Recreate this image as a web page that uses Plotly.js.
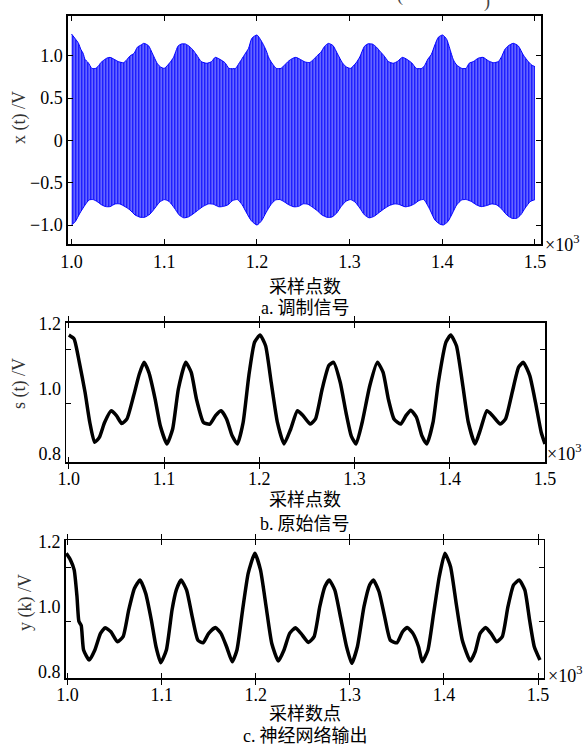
<!DOCTYPE html>
<html>
<head>
<meta charset="utf-8">
<script src="https://cdn.plot.ly/plotly-3.0.1.min.js"></script>
<style>html,body{margin:0;padding:0;background:#fff;}#chart{width:586px;height:747px;}</style>
</head>
<body>
<div id="chart"></div>
<script>
// ---- tick labels ----
const X_TICKS = [1000, 1100, 1200, 1300, 1400, 1500];
const X_TICKTEXT = ['1.0', '1.1', '1.2', '1.3', '1.4', '1.5'];
const XT_TICKS = [-1, -0.5, 0, 0.5, 1];
const XT_TICKTEXT = ['\u22121.0', '\u22120.5', '0', '0.5', '1.0'];
const S_TICKS = [0.8, 1.0, 1.2];
const S_TICKTEXT = ['0.8', '1.0', '1.2'];
const S_MARKS = [0.954, 1.1225];
const Y_MARKS = [0.954, 1.12];

// ---- a. modulated signal: upper / lower envelope of x(t) ----
const UP_X = [1000,1004,1007.5,1010,1012.5,1014.5,1018,1022,1026,1029,1031.5,1034,1038,1041.5,1046,1050.5,1056,1059.5,1063,1067.5,1071,1075,1078,1083,1087.5,1092,1095.5,1100,1106,1110,1115,1118.5,1123,1127.5,1131,1135,1140,1146,1151,1155,1160,1165.5,1170,1177,1179,1183.5,1187,1191,1194.5,1200,1206,1210,1213,1217,1221,1226,1229,1234,1238,1242,1247,1252,1257,1261,1265,1269,1273,1277,1282,1287,1292,1296,1301,1307,1311,1316,1320,1325,1329,1333,1337,1342,1347,1352,1357,1362,1367,1372,1378,1381,1384.5,1388,1392,1395.7,1400.4,1404.7,1408,1412,1415.5,1421,1425.6,1429,1433.4,1438.8,1444,1449.6,1455,1460.4,1464,1467.6,1471,1476.6,1482,1487.4,1492.8,1496.4,1500];
const UP_Y = [1.256,1.20,1.146,1.075,1.028,0.957,0.917,0.85,0.85,0.878,0.917,0.94,0.97,0.98,0.957,0.93,0.917,0.95,0.996,1.028,1.10,1.126,1.146,1.118,1.02,0.917,0.87,0.85,0.917,0.98,1.115,1.138,1.138,1.106,1.067,1.008,0.93,0.91,0.93,0.98,0.957,0.917,0.85,0.85,0.88,0.957,1.017,1.087,1.205,1.244,1.15,1.06,0.97,0.90,0.85,0.85,0.88,0.935,0.965,0.98,0.955,0.925,0.92,0.955,1.0,1.04,1.11,1.145,1.12,1.02,0.92,0.87,0.85,0.915,0.985,1.11,1.14,1.135,1.10,1.05,1.0,0.93,0.91,0.935,0.98,0.955,0.915,0.85,0.85,0.885,0.96,1.01,1.126,1.217,1.244,1.194,1.087,0.95,0.89,0.85,0.85,0.91,0.93,0.97,0.98,0.94,0.917,0.93,0.988,1.075,1.115,1.146,1.115,1.008,0.93,0.89,0.87];
const LO_X = [1000,1004,1009,1014.6,1019,1023.4,1027.7,1032.6,1037,1041.5,1047,1052,1057.7,1063,1068.5,1074,1079,1084.7,1090,1095,1100,1105,1111,1116,1121,1126,1131,1137,1142,1148,1153,1159,1164,1169,1174,1179,1184,1189,1194,1200,1205,1210,1215,1220,1225,1230,1235,1240,1245,1250,1255,1260,1265,1270,1276,1281,1286,1291,1296,1301,1306,1311,1316,1321,1326,1331,1337,1343,1349,1354,1360,1365,1370,1375,1380,1386.7,1392,1397,1401,1406,1411,1415.5,1421,1426,1431.6,1437,1442,1448,1453.4,1458.8,1464,1469.6,1475,1480.4,1484.7,1489.4,1494.8,1500];
const LO_Y = [-1.0,-0.96,-0.86,-0.763,-0.704,-0.70,-0.724,-0.763,-0.783,-0.783,-0.751,-0.751,-0.783,-0.822,-0.881,-0.908,-0.908,-0.87,-0.80,-0.73,-0.70,-0.72,-0.80,-0.88,-0.915,-0.905,-0.87,-0.82,-0.78,-0.75,-0.755,-0.785,-0.78,-0.76,-0.71,-0.70,-0.76,-0.86,-0.95,-1.0,-0.95,-0.85,-0.76,-0.705,-0.70,-0.73,-0.765,-0.785,-0.78,-0.75,-0.755,-0.79,-0.83,-0.88,-0.91,-0.905,-0.86,-0.78,-0.72,-0.70,-0.73,-0.80,-0.88,-0.915,-0.90,-0.86,-0.81,-0.77,-0.75,-0.76,-0.785,-0.775,-0.75,-0.71,-0.70,-0.82,-0.94,-0.987,-1.0,-0.96,-0.86,-0.763,-0.704,-0.70,-0.724,-0.763,-0.783,-0.77,-0.751,-0.763,-0.81,-0.881,-0.92,-0.92,-0.88,-0.80,-0.724,-0.70];

// ---- b. original signal s(t) ----
const S_X = [1000,1005.5,1011,1017,1022,1027,1032,1037.5,1044.5,1050,1055.5,1061,1068,1074,1079,1084,1090.6,1096,1103,1109,1115,1122.7,1128.5,1134,1141.4,1148,1154,1160,1165.6,1171.5,1177,1183,1189,1195,1200.8,1206.6,1212.5,1219,1226,1233,1240,1246,1253.5,1259,1266,1273,1278,1285,1291,1296.5,1301.6,1308,1316,1324,1330,1335.5,1341.4,1348.4,1354,1359,1365,1370.7,1375.8,1382.4,1388,1396,1401,1407,1413.7,1419.5,1426.6,1432.4,1439,1445,1453,1458.6,1465.6,1472.3,1477.3,1484,1490,1496,1500];
const S_Y = [1.166,1.154,1.082,0.99,0.897,0.836,0.851,0.897,0.933,0.918,0.894,0.908,0.979,1.046,1.082,1.051,0.969,0.887,0.831,0.877,1.0,1.082,1.051,0.969,0.897,0.892,0.918,0.933,0.908,0.856,0.831,0.897,1.041,1.144,1.166,1.133,1.02,0.897,0.831,0.877,0.933,0.918,0.892,0.908,1.0,1.072,1.082,1.02,0.928,0.856,0.831,0.897,1.01,1.082,1.051,0.969,0.908,0.892,0.918,0.935,0.913,0.856,0.831,0.897,1.02,1.144,1.166,1.133,1.01,0.897,0.831,0.877,0.933,0.918,0.892,0.908,0.99,1.067,1.082,1.041,0.959,0.867,0.831];

// ---- c. neural network output y(k) ----
const Y_X = [998.6,1003,1007,1010,1012,1014.5,1017,1023,1029,1035,1040,1046,1053,1059,1065,1071,1077,1083,1089,1094,1099,1105,1111,1115.5,1120.6,1126.5,1132.5,1138.5,1144,1150,1157,1163,1169,1175,1180,1186,1192,1199,1205,1211,1217,1224,1230,1236,1242,1248,1256,1262,1268,1273.5,1278,1284,1290,1296.5,1302,1308,1315,1321,1325,1331,1337,1343,1350,1356,1361,1367,1373,1377,1383,1389,1395,1401,1407,1413,1419.5,1428,1433.2,1438.4,1444.3,1450,1456,1462,1468,1474,1480,1486,1491,1496,1502];
const Y_Y = [1.164,1.144,1.113,1.031,0.955,0.942,0.867,0.836,0.867,0.918,0.935,0.923,0.892,0.908,0.99,1.056,1.082,1.041,0.959,0.877,0.828,0.867,0.99,1.051,1.082,1.051,0.969,0.897,0.889,0.918,0.936,0.918,0.877,0.831,0.867,0.99,1.103,1.164,1.113,1.0,0.887,0.833,0.867,0.918,0.935,0.918,0.89,0.908,1.0,1.062,1.082,1.051,0.969,0.877,0.826,0.877,1.0,1.067,1.082,1.046,0.969,0.897,0.889,0.923,0.936,0.918,0.877,0.831,0.867,0.979,1.092,1.164,1.123,1.01,0.897,0.833,0.862,0.918,0.936,0.918,0.892,0.908,1.0,1.067,1.082,1.051,0.959,0.877,0.836];

// ---- geometry helpers (pixels -> paper) ----
const W = 586, H = 747;
const px = v => v / W;
const py = v => 1 - v / H;

const serif = 'Liberation Serif, Times New Roman, serif';
const cjk = 'Noto Sans CJK SC, sans-serif';

function xAx(domain, range, anchor, lw) {
  return {
    domain: domain, range: range, anchor: anchor,
    tickvals: X_TICKS, ticktext: X_TICKTEXT,
    ticks: 'inside', ticklen: 5, tickwidth: 1, tickcolor: '#000',
    showline: true, linecolor: '#000', linewidth: lw, mirror: 'allticks',
    showgrid: false, zeroline: false,
    tickfont: {family: serif, size: 18, color: '#000'}
  };
}
function yAx(domain, range, anchor, vals, text, lw, withTicks) {
  return {
    domain: domain, range: range, anchor: anchor,
    tickvals: vals, ticktext: text,
    ticks: withTicks ? 'inside' : '', ticklen: 5, tickwidth: 1, tickcolor: '#000',
    showline: true, linecolor: '#000', linewidth: lw, mirror: withTicks ? 'allticks' : true,
    showgrid: false, zeroline: false,
    tickfont: {family: serif, size: 18, color: '#000'}
  };
}
function markAx(domain, range, overlay, anchor, vals, lw) {
  return {
    domain: domain, range: range, overlaying: overlay, anchor: anchor,
    tickvals: vals, showticklabels: false,
    ticks: 'inside', ticklen: 5, tickwidth: 1, tickcolor: '#000',
    showline: true, linecolor: '#000', linewidth: lw, mirror: 'allticks',
    showgrid: false, zeroline: false
  };
}

const dA_x = [px(68.3), px(541)], dA_y = [py(244.3), py(15.7)];
const dB_x = [px(66), px(545)], dB_y = [py(462.3), py(322.7)];
const dC_x = [px(65.7), px(543.7)], dC_y = [py(678.3), py(540)];

const traces = [
  {x: LO_X, y: LO_Y, xaxis: 'x', yaxis: 'y', mode: 'lines',
   line: {color: '#0000ff', width: 1, shape: 'spline', smoothing: 0.6}, hoverinfo: 'skip'},
  {x: UP_X, y: UP_Y, xaxis: 'x', yaxis: 'y', mode: 'lines', fill: 'tonexty',
   fillcolor: 'rgba(0,0,255,0.75)',
   fillpattern: {shape: '|', size: 3, solidity: 0.7, fgcolor: '#0000ff', bgcolor: '#dfe3ff', fillmode: 'replace'},
   line: {color: '#0000ff', width: 1, shape: 'spline', smoothing: 0.6}, hoverinfo: 'skip'},
  {x: S_X, y: S_Y, xaxis: 'x2', yaxis: 'y2', mode: 'lines',
   line: {color: '#000', width: 3.5, shape: 'spline', smoothing: 0.5}},
  {x: Y_X, y: Y_Y, xaxis: 'x3', yaxis: 'y3', mode: 'lines',
   line: {color: '#000', width: 3.5, shape: 'spline', smoothing: 0.5}},
  {x: [null], y: [null], xaxis: 'x2', yaxis: 'y4', mode: 'lines', showlegend: false},
  {x: [null], y: [null], xaxis: 'x3', yaxis: 'y5', mode: 'lines', showlegend: false}
];

function ann(text, x, y, opts) {
  return Object.assign({text: text, x: px(x), y: py(y), xref: 'paper', yref: 'paper',
    showarrow: false, xanchor: 'center', yanchor: 'middle', borderpad: 0}, opts || {});
}
const capA = '<span style="font-family:Liberation Serif">a.</span> 调制信号';
const capB = '<span style="font-family:Liberation Serif">b.</span> 原始信号';
const capC = '<span style="font-family:Liberation Serif">c.</span> 神经网络输出';
const fCJK = {family: cjk, size: 18, color: '#000'};
const fY = {family: serif, size: 18, color: '#333'};
const fSer = {family: serif, size: 18, color: '#000'};

const annotations = [
  ann('x (t) /V', 20, 118, {textangle: -90, font: fY}),
  ann('s (t) /V', 20, 384, {textangle: -90, font: fY}),
  ann('y (k) /V', 25, 603, {textangle: -90, font: fY}),
  ann('采样点数', 305, 285, {font: fCJK}),
  ann(capA, 305, 306, {font: fCJK}),
  ann('采样点数', 305, 498, {font: fCJK}),
  ann(capB, 305, 522, {font: fCJK}),
  ann('采样数点', 305, 712, {font: fCJK}),
  ann(capC, 305, 734, {font: fCJK}),
  ann('\u00d710<sup>3</sup>', 544, 243, {xanchor: 'left', font: fSer}),
  ann('\u00d710<sup>3</sup>', 546, 452, {xanchor: 'left', font: fSer}),
  ann('\u00d710<sup>3</sup>', 547, 674, {xanchor: 'left', font: fSer}),
  ann('(', 400, -4, {font: {family: serif, size: 18, color: '#444'}}),
  ann(')', 487, 1, {font: {family: serif, size: 18, color: '#444'}})
];

const layout = {
  width: W, height: H,
  margin: {l: 0, r: 0, t: 0, b: 0},
  paper_bgcolor: '#fff', plot_bgcolor: '#fff',
  showlegend: false,
  xaxis: xAx(dA_x, [996.5, 1506.5], 'y', 2),
  yaxis: yAx(dA_y, [-1.228, 1.472], 'x', XT_TICKS, XT_TICKTEXT, 2, true),
  xaxis2: xAx(dB_x, [997, 1500], 'y2', 1.5),
  yaxis2: yAx(dB_y, [0.7745, 1.204], 'x2', S_TICKS, S_TICKTEXT, 1.5, false),
  xaxis3: xAx(dC_x, [998, 1506], 'y3', 1.5),
  yaxis3: yAx(dC_y, [0.78, 1.205], 'x3', S_TICKS, S_TICKTEXT, 1.5, false),
  yaxis4: markAx(dB_y, [0.7745, 1.204], 'y2', 'x2', S_MARKS, 1.5),
  yaxis5: markAx(dC_y, [0.78, 1.205], 'y3', 'x3', Y_MARKS, 1.5),
  annotations: annotations
};

Plotly.newPlot('chart', traces, layout, {staticPlot: true, displayModeBar: false});
</script>
</body>
</html>
